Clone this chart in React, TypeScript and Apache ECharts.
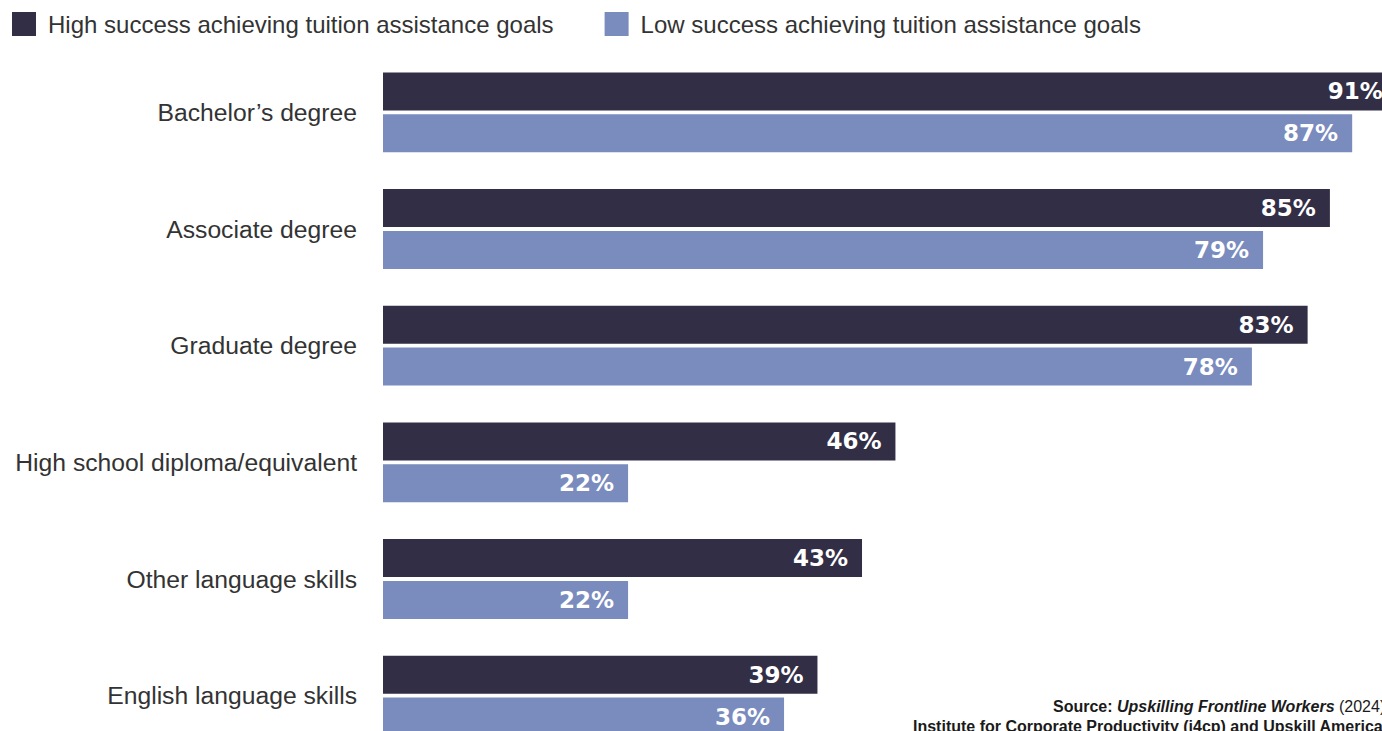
import React, { useEffect, useRef } from "react";
import * as echarts from "echarts";

const categories = [
  "Bachelor’s degree",
  "Associate degree",
  "Graduate degree",
  "High school diploma/equivalent",
  "Other language skills",
  "English language skills",
];
const highSuccess = [91, 85, 83, 46, 43, 39];
const lowSuccess = [87, 79, 78, 22, 22, 36];
const seriesNames = [
  "High success achieving tuition assistance goals",
  "Low success achieving tuition assistance goals",
];
const colors = ["#322e46", "#7a8bbe"];

export default function App() {
  const ref = useRef<HTMLDivElement>(null);
  useEffect(() => {
    if (!ref.current) return;
    const chart = echarts.init(ref.current, null, { renderer: "svg" });
    const labelStyle = {
      show: true,
      position: "insideRight",
      distance: 14,
      color: "#ffffff",
      fontFamily: "DejaVu Sans",
      fontWeight: "bold",
      fontSize: 23,
      formatter: (p: any) => p.value + "%",
    };
    chart.setOption({
      animation: false,
      backgroundColor: "#ffffff",
      legend: {
        left: 7,
        top: 7,
        itemWidth: 24,
        itemHeight: 24,
        itemGap: 51,
        icon: "rect",
        data: seriesNames,
        textStyle: {
          fontFamily: "Liberation Sans",
          fontSize: 24,
          color: "#333333",
          padding: [0, 0, 0, 7],
        },
      },
      grid: { left: 383, width: 1114, top: 54, height: 700, containLabel: false },
      xAxis: {
        type: "value",
        min: 0,
        max: 100,
        show: false,
      },
      yAxis: {
        type: "category",
        data: categories,
        inverse: true,
        axisLine: { show: false },
        axisTick: { show: false },
        splitLine: { show: false },
        axisLabel: {
          margin: 26,
          fontFamily: "Liberation Sans",
          fontSize: 24.7,
          color: "#333333",
        },
      },
      series: [
        {
          name: seriesNames[0],
          type: "bar",
          data: highSuccess,
          barWidth: 38,
          barGap: "10%",
          itemStyle: { color: colors[0] },
          label: labelStyle,
        },
        {
          name: seriesNames[1],
          type: "bar",
          data: lowSuccess,
          barWidth: 38,
          barGap: "10%",
          itemStyle: { color: colors[1] },
          label: labelStyle,
        },
      ],
      graphic: [
        {
          type: "text",
          left: 1053,
          top: 698,
          style: {
            text: "{b|Source: }{bi|Upskilling Frontline Workers}{r| (2024)}",
            rich: {
              b: { fontFamily: "Liberation Sans", fontWeight: "bold", fontSize: 16, fill: "#1a1a1a" },
              bi: { fontFamily: "Liberation Sans", fontWeight: "bold", fontStyle: "italic", fontSize: 16, fill: "#1a1a1a" },
              r: { fontFamily: "Liberation Sans", fontSize: 16, fill: "#1a1a1a" },
            },
          },
        },
        {
          type: "text",
          left: 913,
          top: 718,
          style: {
            text: "Institute for Corporate Productivity (i4cp) and Upskill America",
            fontFamily: "Liberation Sans",
            fontWeight: "bold",
            fontSize: 16,
            fill: "#1a1a1a",
          },
        },
      ],
    });
    return () => chart.dispose();
  }, []);
  return (
    <div
      ref={ref}
      style={{ position: "fixed", left: 0, top: 0, width: 1500, height: 770 }}
    />
  );
}
